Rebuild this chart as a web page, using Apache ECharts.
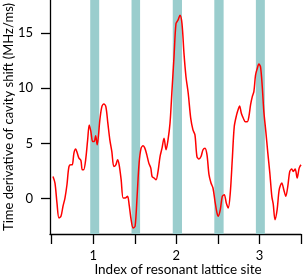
<!DOCTYPE html>
<html>
<head>
<meta charset="utf-8">
<script src="https://cdn.jsdelivr.net/npm/echarts@6/dist/echarts.min.js"></script>
<style>html,body{margin:0;padding:0;background:#fff}#c{width:303px;height:279px}</style>
</head>
<body>
<div id="c"></div>
<script>
var siteIndex = [0.516,0.540,0.564,0.588,0.612,0.636,0.660,0.684,0.708,0.732,0.748,0.768,0.789,0.808,0.828,0.852,0.868,0.885,0.909,0.933,0.952,0.972,0.993,1.012,1.029,1.048,1.080,1.104,1.128,1.152,1.176,1.200,1.224,1.248,1.272,1.293,1.312,1.336,1.360,1.384,1.413,1.432,1.456,1.480,1.504,1.528,1.552,1.576,1.600,1.621,1.645,1.669,1.693,1.708,1.732,1.756,1.780,1.804,1.828,1.852,1.876,1.900,1.924,1.948,1.972,1.996,2.020,2.044,2.068,2.092,2.116,2.143,2.173,2.200,2.224,2.248,2.272,2.297,2.321,2.345,2.369,2.393,2.417,2.441,2.465,2.489,2.505,2.529,2.553,2.577,2.601,2.625,2.649,2.673,2.697,2.725,2.749,2.761,2.782,2.806,2.830,2.854,2.873,2.893,2.914,2.933,2.953,2.974,2.993,3.013,3.034,3.053,3.077,3.101,3.125,3.149,3.166,3.187,3.213,3.238,3.269,3.293,3.317,3.341,3.365,3.389,3.406,3.430,3.454,3.478,3.500];
var shiftRate = [2.0,1.4,-0.4,-1.75,-1.6,-0.7,0.06,1.26,2.9,3.07,3.07,4.13,4.49,4.13,3.68,3.46,2.62,2.62,3.52,5.33,6.68,6.08,5.18,5.18,5.69,4.88,7.14,8.34,8.58,8.34,6.84,5.33,4.27,2.92,3.07,3.52,3.07,1.72,0.06,0.06,0.21,-0.54,-1.9,-2.65,-2.5,0.21,3.22,4.58,4.79,4.58,3.97,3.22,2.77,2.01,1.87,1.72,2.47,3.82,4.58,5.48,4.43,5.33,6.84,9.85,12.85,15.87,16.17,16.62,15.87,13.16,11.05,9.55,7.3,6.23,5.78,3.82,3.59,3.82,4.43,4.58,3.97,2.17,1.42,0.97,-0.24,-1.29,-1.6,-0.99,0.21,0.36,-0.39,-0.84,0.51,3.52,6.53,7.59,8.19,8.4,7.74,7.29,6.98,6.98,7.43,8.49,9.24,9.69,11.2,11.8,12.2,11.95,10.14,7.89,6.08,4.13,2.32,0.21,-0.5,-1.9,-0.99,0.81,1.42,0.81,0.21,1.11,2.47,2.68,2.47,2.68,1.87,2.77,3.07];
var bandStart = [0.964,1.461,1.957,2.457,2.957];
var bandEnd   = [1.072,1.564,2.068,2.569,3.065];
var xTicks = [0.5,1,1.5,2,2.5,3,3.5];
var xTickLabels = [1,2,3];
var yTicks = [0,5,10,15];
var xTitle = 'Index of resonant lattice site';
var yTitle = 'Time derivative of cavity shift (MHz/ms)';

var chart = echarts.init(document.getElementById('c'), null, {renderer:'canvas'});
var pts = siteIndex.map(function(x,i){return [x, shiftRate[i]];});
var areas = bandStart.map(function(s,i){return [{xAxis:s},{xAxis:bandEnd[i]}];});
var font = 'Lato, "Open Sans", sans-serif';
chart.setOption({
  animation:false,
  grid:{left:50,right:2,top:0,bottom:45,containLabel:false},
  xAxis:{type:'value',min:0.48,max:3.5,
    axisLine:{show:true,onZero:false,lineStyle:{color:'#000',width:1.3}},
    axisTick:{show:true,customValues:xTicks,length:10,inside:false,lineStyle:{color:'#000',width:1.3}},
    axisLabel:{customValues:xTickLabels,margin:15,color:'#000',fontSize:13,fontFamily:font},
    splitLine:{show:false}},
  yAxis:{type:'value',min:-3.2,max:18,
    axisLine:{show:true,onZero:false,lineStyle:{color:'#000',width:1.3}},
    axisTick:{show:true,customValues:yTicks,length:9,lineStyle:{color:'#000',width:1.3}},
    axisLabel:{customValues:yTicks,margin:17,color:'#000',fontSize:13,fontFamily:font},
    splitLine:{show:false}},
  graphic:[
    {type:'text',x:178,y:263,style:{text:xTitle,fill:'#000',font:'13.5px '+font,textAlign:'center',textVerticalAlign:'top'}},
    {type:'text',x:2,y:117,rotation:Math.PI/2,style:{text:yTitle,fill:'#000',font:'13px '+font,textAlign:'center',textVerticalAlign:'top'}}
  ],
  series:[{type:'line',data:pts,showSymbol:false,symbol:'none',smooth:0.3,
    lineStyle:{color:'#ff0000',width:1.5},z:3,
    markArea:{silent:true,itemStyle:{color:'#9acdcd',opacity:1},data:areas}}]
});
</script>
</body>
</html>
